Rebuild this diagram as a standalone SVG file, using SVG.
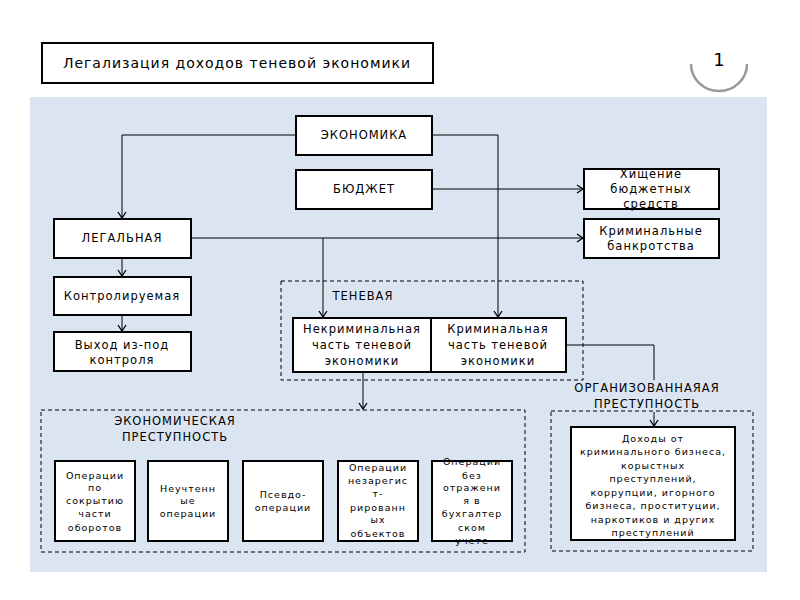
<svg xmlns="http://www.w3.org/2000/svg" width="800" height="600" viewBox="0 0 800 600">
<style>
.box{fill:#fff;stroke:#000;stroke-width:2}
.dash{fill:none;stroke:#000;stroke-width:1;stroke-dasharray:4,3}
.t{font-family:"DejaVu Sans",sans-serif;font-size:11.5px;fill:#000;text-anchor:middle;letter-spacing:1px}
.s{font-family:"DejaVu Sans",sans-serif;font-size:9.5px;fill:#000;text-anchor:middle;letter-spacing:1px}
.c{fill:none;stroke:#000;stroke-width:1}
</style>
<defs>
<marker id="a" markerWidth="10" markerHeight="10" refX="8" refY="5" orient="auto" markerUnits="userSpaceOnUse">
<polyline points="2,1 8,5 2,9" fill="none" stroke="#000" stroke-width="1.3"/>
</marker>
</defs>
<rect width="800" height="600" fill="#fff"/>
<rect x="30" y="97" width="737" height="475" fill="#dbe5f1"/>
<g id="title">
<rect x="42" y="43" width="391" height="40" fill="#fff" stroke="#000" stroke-width="2"/>
<text x="237" y="68" style="font-family:'DejaVu Sans',sans-serif;font-size:14px;text-anchor:middle;letter-spacing:1px">Легализация доходов теневой экономики</text>
</g>
<g id="page">
<path d="M691,64 A28,27 0 0 0 747,64" fill="none" stroke="#999" stroke-width="2.5"/>
<text x="719" y="66" style="font-family:'DejaVu Sans',sans-serif;font-size:18px;text-anchor:middle">1</text>
</g>
<g id="connectors" class="c">
<path class="c" d="M296,135 H122 V218" marker-end="url(#a)"/>
<path class="c" d="M432,135 H498 V317" marker-end="url(#a)"/>
<path class="c" d="M432,189 H583" marker-end="url(#a)"/>
<path class="c" d="M191,238 H583" marker-end="url(#a)"/>
<path class="c" d="M323,238 V317" marker-end="url(#a)"/>
<path class="c" d="M122,258 V276" marker-end="url(#a)"/>
<path class="c" d="M122,315 V331" marker-end="url(#a)"/>
<path class="c" d="M363,372 V409" marker-end="url(#a)"/>
<path class="c" d="M566,345 H654 V380"/>
<path class="c" d="M654,412 V426" marker-end="url(#a)"/>
</g>
<g id="ekonomika"><rect class="box" x="296" y="116" width="136" height="39"/><text class="t" x="364" y="139">ЭКОНОМИКА</text></g>
<g id="budget"><rect class="box" x="296" y="170" width="136" height="39"/><text class="t" x="364" y="193">БЮДЖЕТ</text></g>
<g id="legal"><rect class="box" x="54" y="219" width="137" height="39"/><text class="t" x="122" y="242">ЛЕГАЛЬНАЯ</text></g>
<g id="control"><rect class="box" x="54" y="277" width="137" height="38"/><text class="t" x="122" y="300">Контролируемая</text></g>
<g id="exit"><rect class="box" x="54" y="332" width="137" height="39"/><text class="t" x="122" y="349">Выход из-под</text><text class="t" x="122" y="364">контроля</text></g>
<g id="theft"><rect class="box" x="584" y="169" width="135" height="40"/><text class="t" x="651" y="178">Хищение</text><text class="t" x="651" y="193">бюджетных</text><text class="t" x="651" y="208">средств</text></g>
<g id="bankrupt"><rect class="box" x="584" y="219" width="135" height="39"/><text class="t" x="651" y="235">Криминальные</text><text class="t" x="651" y="250">банкротства</text></g>
<g id="shadow">
<rect class="dash" x="281" y="281" width="302" height="99"/>
<text class="t" x="363" y="300">ТЕНЕВАЯ</text>
</g>
<g id="noncrim"><rect class="box" x="293" y="318" width="138" height="54"/><text class="t" x="362" y="333">Некриминальная</text><text class="t" x="362" y="349">часть теневой</text><text class="t" x="362" y="365">экономики</text></g>
<g id="crim"><rect class="box" x="431" y="318" width="135" height="54"/><text class="t" x="498" y="333">Криминальная</text><text class="t" x="498" y="349">часть теневой</text><text class="t" x="498" y="365">экономики</text></g>
<g id="econcrime">
<rect class="dash" x="41" y="410" width="484" height="142"/>
<text class="t" x="175" y="425">ЭКОНОМИЧЕСКАЯ</text>
<text class="t" x="175" y="441">ПРЕСТУПНОСТЬ</text>
</g>
<g id="op1"><rect class="box" x="55" y="461" width="80" height="80"/>
<text class="s" x="95" y="479">Операции</text><text class="s" x="95" y="491">по</text><text class="s" x="95" y="504">сокрытию</text><text class="s" x="95" y="517">части</text><text class="s" x="95" y="531">оборотов</text></g>
<g id="op2"><rect class="box" x="148" y="461" width="80" height="80"/>
<text class="s" x="188" y="492">Неучтенн</text><text class="s" x="188" y="504">ые</text><text class="s" x="188" y="517">операции</text></g>
<g id="op3"><rect class="box" x="243" y="461" width="80" height="80"/>
<text class="s" x="283" y="498">Псевдо-</text><text class="s" x="283" y="511">операции</text></g>
<g id="op4"><rect class="box" x="338" y="461" width="80" height="80"/>
<text class="s" x="378" y="471">Операции</text><text class="s" x="378" y="484">незарегис</text><text class="s" x="378" y="497">т-</text><text class="s" x="378" y="511">рированн</text><text class="s" x="378" y="523">ых</text><text class="s" x="378" y="537">объектов</text></g>
<g id="op5"><rect class="box" x="432" y="461" width="80" height="80"/>
<text class="s" x="472" y="465">Операции</text><text class="s" x="472" y="479">без</text><text class="s" x="472" y="491">отражени</text><text class="s" x="472" y="504">я в</text><text class="s" x="472" y="517">бухгалтер</text><text class="s" x="472" y="531">ском</text><text class="s" x="472" y="544">учете</text></g>
<g id="orgcrime">
<rect class="dash" x="551" y="411" width="202" height="140"/>
<text class="t" x="647" y="392">ОРГАНИЗОВАННАЯАЯ</text>
<text class="t" x="647" y="408">ПРЕСТУПНОСТЬ</text>
</g>
<g id="income"><rect class="box" x="571" y="427" width="164" height="113"/>
<text class="s" x="653" y="442">Доходы от</text><text class="s" x="653" y="455">криминального бизнеса,</text><text class="s" x="653" y="469">корыстных</text><text class="s" x="653" y="482">преступлений,</text><text class="s" x="653" y="496">коррупции, игорного</text><text class="s" x="653" y="509">бизнеса, проституции,</text><text class="s" x="653" y="523">наркотиков и других</text><text class="s" x="653" y="536">преступлений</text></g>
</svg>
